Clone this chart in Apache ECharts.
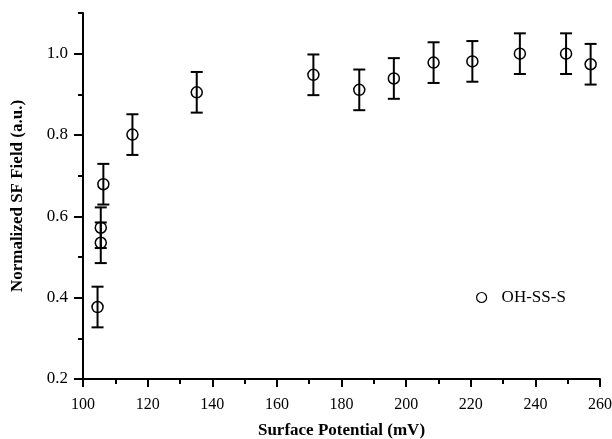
<!DOCTYPE html>
<html>
<head>
<meta charset="utf-8">
<script src="https://cdn.jsdelivr.net/npm/echarts@6/dist/echarts.min.js"></script>
<style>
  html, body { margin: 0; padding: 0; background: #fff; }
  #chart { width: 612px; height: 439px; }
</style>
</head>
<body>
<div id="chart"></div>
<script>
// Surface potential (mV) and normalized SF field (a.u.) for OH-SS-S
const potential = [104.5, 105.5, 105.5, 106.3, 115.3, 135.2, 171.3, 185.5, 196.2, 208.5, 220.5, 235.2, 249.5, 257.1];
const sfField   = [0.377, 0.535, 0.572, 0.679, 0.801, 0.905, 0.948, 0.911, 0.939, 0.978, 0.981, 1.000, 1.000, 0.974];
const sfError   = [0.05, 0.05, 0.05, 0.05, 0.05, 0.05, 0.05, 0.05, 0.05, 0.05, 0.05, 0.05, 0.05, 0.05];

const yMajorTicks = [0.2, 0.4, 0.6, 0.8, 1.0];
const yMinorTicks = [0.3, 0.5, 0.7, 0.9, 1.1];

const seriesName = 'OH-SS-S';
const FONT = '"Liberation Serif", "Times New Roman", serif';

const points = potential.map((x, i) => [x, sfField[i]]);
const bars = potential.map((x, i) => [x, sfField[i] - sfError[i], sfField[i] + sfError[i]]);

const chart = echarts.init(document.getElementById('chart'), null, { renderer: 'canvas' });

const axisLine = { show: true, lineStyle: { color: '#000', width: 2 } };

chart.setOption({
  animation: false,
  backgroundColor: '#fff',
  grid: { left: 83, right: 12, top: 13, bottom: 60, containLabel: false, outerBoundsMode: 'none' },
  legend: {
    left: 471, top: 284,
    itemWidth: 12, itemHeight: 10,
    data: [{ name: seriesName, itemStyle: { color: 'rgba(0,0,0,0)', borderColor: '#000', borderWidth: 1.2 } }],
    textStyle: { fontFamily: FONT, fontSize: 17, color: '#000', padding: [0, 0, 0, 9] },
    itemGap: 8
  },
  xAxis: {
    type: 'value', min: 100, max: 260, interval: 20,
    name: 'Surface Potential (mV)', nameLocation: 'middle', nameGap: 43,
    nameTextStyle: { fontFamily: FONT, fontSize: 17, fontWeight: 'bold', color: '#000' },
    axisLine: axisLine,
    axisTick: { show: true, length: 8, lineStyle: { color: '#000', width: 2 } },
    minorTick: { show: true, splitNumber: 2, length: 5, lineStyle: { color: '#000', width: 2 } },
    axisLabel: { fontFamily: FONT, fontSize: 16, color: '#000', margin: 18 },
    splitLine: { show: false }
  },
  yAxis: [
    {
      type: 'value', min: 0.2, max: 1.1,
      name: 'Normalized SF Field (a.u.)', nameLocation: 'middle', nameGap: 57,
      nameTextStyle: { fontFamily: FONT, fontSize: 17, fontWeight: 'bold', color: '#000' },
      axisLine: axisLine,
      axisTick: { show: true, length: 9, customValues: yMajorTicks, lineStyle: { color: '#000', width: 2 } },
      axisLabel: { customValues: yMajorTicks, fontFamily: FONT, fontSize: 17, color: '#000', margin: 15,
                   formatter: v => v.toFixed(1) },
      splitLine: { show: false }
    },
    {
      type: 'value', min: 0.2, max: 1.1, position: 'left',
      axisLine: { show: false },
      axisTick: { show: true, length: 5, customValues: yMinorTicks, lineStyle: { color: '#000', width: 2 } },
      axisLabel: { show: false },
      splitLine: { show: false }
    }
  ],
  series: [
    {
      name: 'error',
      type: 'custom',
      silent: true,
      renderItem: function (params, api) {
        const x = api.value(0);
        const lo = api.coord([x, api.value(1)]);
        const hi = api.coord([x, api.value(2)]);
        const cap = 6;
        const style = { stroke: '#000', lineWidth: 2, fill: null };
        return {
          type: 'group',
          children: [
            { type: 'line', shape: { x1: lo[0], y1: lo[1], x2: hi[0], y2: hi[1] }, style: style },
            { type: 'line', shape: { x1: lo[0] - cap, y1: lo[1], x2: lo[0] + cap, y2: lo[1] }, style: style },
            { type: 'line', shape: { x1: hi[0] - cap, y1: hi[1], x2: hi[0] + cap, y2: hi[1] }, style: style }
          ]
        };
      },
      encode: { x: 0, y: [1, 2] },
      data: bars,
      z: 2
    },
    {
      name: seriesName,
      type: 'scatter',
      symbol: 'circle',
      symbolSize: 11,
      itemStyle: { color: 'rgba(0,0,0,0)', borderColor: '#000', borderWidth: 1.5, opacity: 1 },
      data: points,
      z: 3
    }
  ]
});
</script>
</body>
</html>
